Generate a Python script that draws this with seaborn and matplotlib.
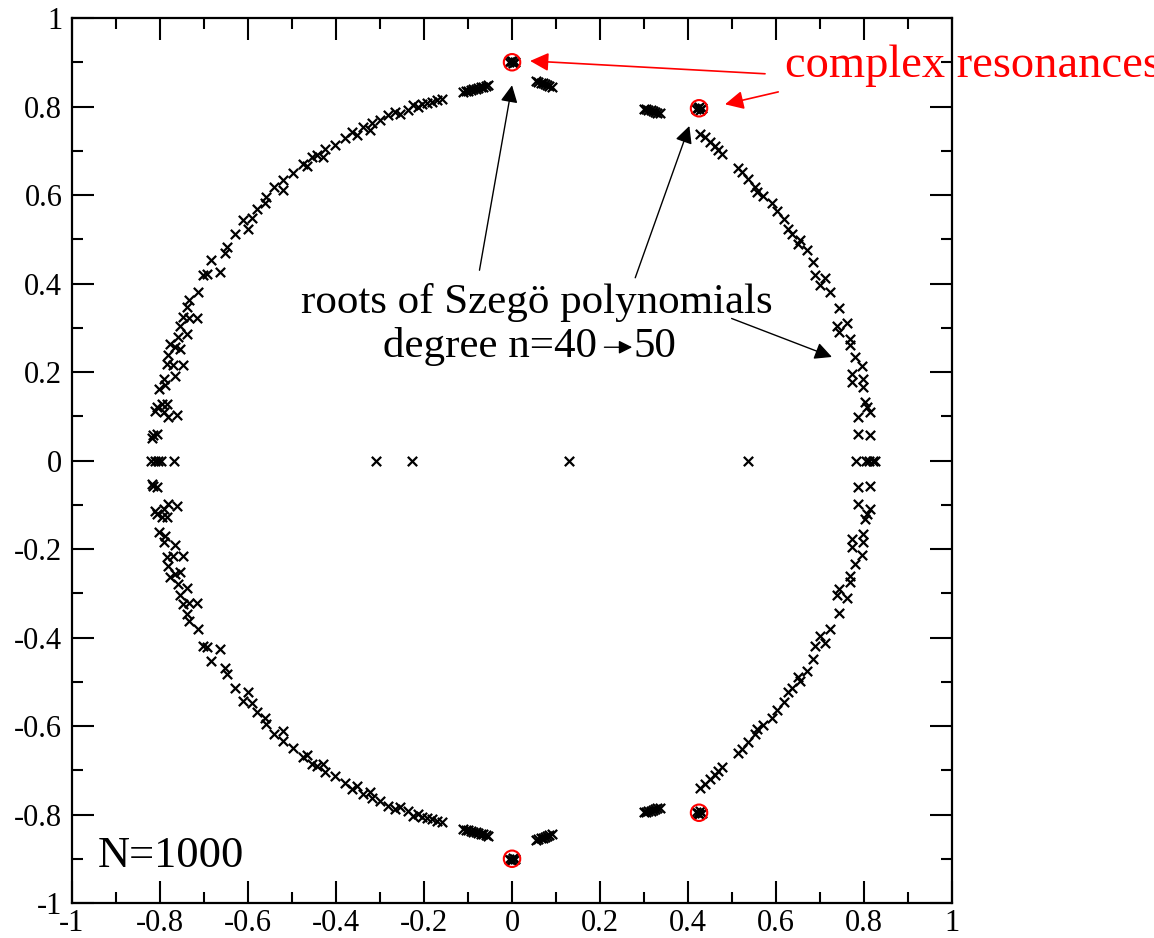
import matplotlib
matplotlib.use("Agg")
import matplotlib.pyplot as plt
import seaborn as sns
import pandas as pd
import numpy as np

# ---- data (upper half-plane roots; lower half are complex conjugates) ----
upper_x = [
    # upper-left arc
    -0.054, -0.060, -0.065, -0.071, -0.077, -0.083, -0.088, -0.094, -0.099, -0.105, -0.111,
    -0.160, -0.171, -0.182, -0.194, -0.205, -0.213, -0.224, -0.236, -0.255, -0.266, -0.281,
    -0.300, -0.319, -0.323, -0.338, -0.353, -0.364, -0.380, -0.402, -0.425, -0.429, -0.444,
    -0.455, -0.467, -0.474, -0.497, -0.520, -0.520, -0.542, -0.558, -0.561, -0.580, -0.592,
    -0.599, -0.611, -0.630, -0.648, -0.652, -0.664, -0.683, -0.694, -0.702, -0.713, -0.735,
    -0.739, -0.747, -0.717, -0.735, -0.755, -0.758, -0.739, -0.777, -0.766, -0.755, -0.781,
    -0.785, -0.770, -0.747, -0.766, -0.792, -0.803, -0.788, -0.807, -0.796, -0.785, -0.792,
    -0.781, -0.762, -0.811, -0.815, -0.807, -0.818,
    # cluster near top
    0.055, 0.060, 0.065, 0.070, 0.075, 0.080, 0.085, 0.090,
    0.300, 0.305, 0.310, 0.315, 0.320, 0.325, 0.330, 0.336,
    # resonance clusters
    -0.006, -0.002, 0.002, 0.006, 0.000,
    0.419, 0.423, 0.427, 0.431, 0.425,
    # upper-right arc
    0.427, 0.439, 0.450, 0.461, 0.469, 0.477, 0.514, 0.522, 0.537, 0.552, 0.556, 0.571,
    0.590, 0.602, 0.617, 0.628, 0.636, 0.655, 0.651, 0.670, 0.685, 0.689, 0.711, 0.700,
    0.723, 0.742, 0.738, 0.761, 0.742, 0.768, 0.768, 0.780, 0.795, 0.772, 0.772, 0.798,
    0.798, 0.802, 0.806, 0.814, 0.787, 0.787, 0.814,
]
upper_y = [
    0.848, 0.847, 0.845, 0.844, 0.842, 0.840, 0.839, 0.837, 0.836, 0.834, 0.832,
    0.818, 0.814, 0.811, 0.808, 0.805, 0.799, 0.803, 0.792, 0.784, 0.788, 0.781,
    0.769, 0.762, 0.748, 0.754, 0.735, 0.743, 0.728, 0.714, 0.705, 0.686, 0.690,
    0.686, 0.665, 0.670, 0.649, 0.633, 0.611, 0.618, 0.596, 0.581, 0.569, 0.547,
    0.524, 0.543, 0.513, 0.483, 0.468, 0.426, 0.454, 0.422, 0.419, 0.381, 0.362,
    0.347, 0.324, 0.321, 0.321, 0.305, 0.279, 0.287, 0.264, 0.256, 0.253, 0.238,
    0.219, 0.215, 0.215, 0.192, 0.185, 0.162, 0.170, 0.121, 0.128, 0.128, 0.109,
    0.098, 0.102, 0.113, 0.057, 0.060, 0.052,
    0.857, 0.856, 0.854, 0.852, 0.851, 0.849, 0.847, 0.845,
    0.795, 0.794, 0.792, 0.791, 0.789, 0.788, 0.786, 0.785,
    0.900, 0.902, 0.898, 0.900, 0.903,
    0.795, 0.797, 0.793, 0.796, 0.798,
    0.739, 0.730, 0.720, 0.710, 0.701, 0.692, 0.660, 0.652, 0.637, 0.618, 0.607, 0.597,
    0.581, 0.564, 0.545, 0.524, 0.513, 0.498, 0.490, 0.475, 0.449, 0.419, 0.413, 0.396,
    0.381, 0.345, 0.305, 0.311, 0.290, 0.275, 0.260, 0.234, 0.213, 0.196, 0.177, 0.185,
    0.166, 0.132, 0.121, 0.109, 0.098, 0.060, 0.057,
]
real_x = [-0.820, -0.812, -0.805, -0.798, -0.768, -0.309, -0.227, 0.130, 0.536,
          0.782, 0.805, 0.812, 0.820, 0.826]
real_y = [0.0] * len(real_x)

res_x = [0.0, 0.425, 0.0, 0.425]
res_y = [0.900, 0.796, -0.900, -0.796]

x_ticks = [-1, -0.8, -0.6, -0.4, -0.2, 0, 0.2, 0.4, 0.6, 0.8, 1]
x_labels = ["-1", "-0.8", "-0.6", "-0.4", "-0.2", "0", "0.2", "0.4", "0.6", "0.8", "1"]
y_ticks = [-1, -0.8, -0.6, -0.4, -0.2, 0, 0.2, 0.4, 0.6, 0.8, 1]
y_labels = ["-1", "-0.8", "-0.6", "-0.4", "-0.2", "0", "0.2", "0.4", "0.6", "0.8", "1"]

roots = pd.DataFrame({
    "re": upper_x + upper_x + real_x,
    "im": upper_y + [-v for v in upper_y] + real_y,
})
res = pd.DataFrame({"re": res_x, "im": res_y})

# ---- style ----
sns.set_theme(style="ticks")
plt.rcParams["font.family"] = ["Liberation Serif", "DejaVu Serif"]

fig = plt.figure(figsize=(11.54, 9.38), dpi=100)
ax = fig.add_axes([0.0624, 0.0373, 0.7626, 0.9435])

sns.scatterplot(data=roots, x="re", y="im", marker="x", color="black",
                s=45, linewidth=1.6, ax=ax, legend=False, zorder=3)
sns.scatterplot(data=res, x="re", y="im", marker="o", facecolors="none",
                edgecolor="red", s=140, linewidth=1.5, ax=ax, legend=False, zorder=4)

ax.set_xlim(-1, 1)
ax.set_ylim(-1, 1)
ax.set_xlabel("")
ax.set_ylabel("")
ax.set_xticks(x_ticks)
ax.set_xticklabels(x_labels)
ax.set_yticks(y_ticks)
ax.set_yticklabels(y_labels)
ax.set_xticks(np.arange(-0.9, 1.0, 0.2), minor=True)
ax.set_yticks(np.arange(-0.9, 1.0, 0.2), minor=True)
ax.tick_params(which="both", direction="in", top=True, right=True, width=1.5,
               colors="black", labelsize=22)
ax.tick_params(which="major", length=16, pad=7)
ax.tick_params(axis="x", which="major", pad=4)
ax.tick_params(which="minor", length=8)
for sp in ax.spines.values():
    sp.set_linewidth(1.6)
    sp.set_color("black")

# ---- annotations ----
arrow_black = dict(arrowstyle="-|>", color="black", lw=1.0,
                   mutation_scale=26, shrinkA=0, shrinkB=0)
ax.annotate("", xy=(0.0, 0.848), xytext=(-0.074, 0.430), arrowprops=arrow_black)
ax.annotate("", xy=(0.403, 0.756), xytext=(0.280, 0.413), arrowprops=arrow_black)
ax.annotate("", xy=(0.727, 0.234), xytext=(0.499, 0.321), arrowprops=arrow_black)

arrow_red = dict(arrowstyle="-|>", color="red", lw=1.2,
                 mutation_scale=28, shrinkA=0, shrinkB=0)
ax.annotate("", xy=(0.041, 0.903), xytext=(0.575, 0.874), arrowprops=arrow_red)
ax.annotate("", xy=(0.484, 0.805), xytext=(0.605, 0.833), arrowprops=arrow_red)

ax.text(0.057, 0.333, "roots of Szegö polynomials", ha="center", va="baseline",
        fontsize=31, color="black")
ax.text(0.193, 0.233, "degree n=40", ha="right", va="baseline", fontsize=31, color="black")
ax.text(0.275, 0.233, "50", ha="left", va="baseline", fontsize=31, color="black")
ax.annotate("", xy=(0.273, 0.256), xytext=(0.210, 0.256),
            arrowprops=dict(arrowstyle="-|>", color="black", lw=1.0,
                            mutation_scale=20, shrinkA=0, shrinkB=0))

ax.text(-0.941, -0.919, "N=1000", ha="left", va="baseline", fontsize=32, color="black")
ax.text(0.620, 0.867, "complex resonances", ha="left", va="baseline", fontsize=33.5,
        color="red", clip_on=False)

fig.savefig("out.png", dpi=100)
